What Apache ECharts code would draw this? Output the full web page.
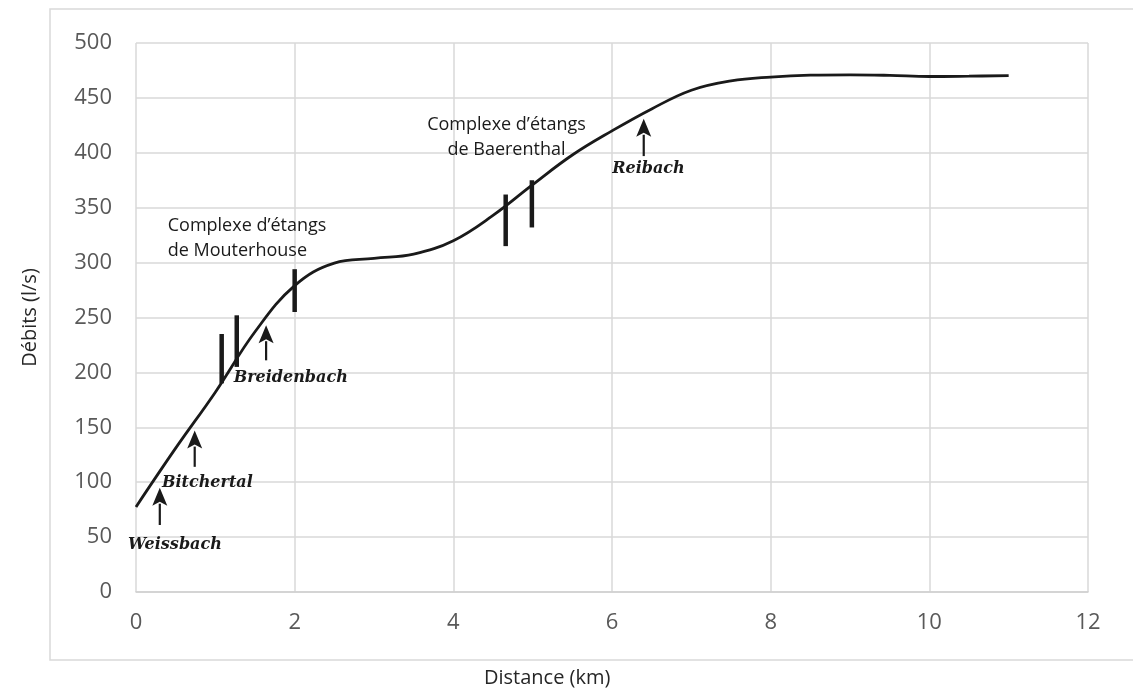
<!DOCTYPE html>
<html>
<head>
<meta charset="utf-8">
<script src="https://cdn.jsdelivr.net/npm/echarts@6/dist/echarts.min.js"></script>
<style>
  html, body { margin: 0; padding: 0; background: #fff; }
  #chart { width: 1133px; height: 693px; }
</style>
</head>
<body>
<div id="chart"></div>
<script>
// courbe des débits (km, l/s)
var distance = [0, 0.5, 1.0, 1.5, 2.0, 2.5, 3.0, 3.5, 4.0, 4.5, 5.0, 5.5, 6.0, 6.5, 7.0, 7.5, 8.0, 8.5, 9.0, 9.5, 10.0, 10.5, 11.0];
var debits = [77.5, 131, 182, 237, 279, 299.5, 303.8, 307.8, 320, 343, 371, 398, 420, 440, 457, 465.5, 469, 470.7, 471, 470.5, 469.5, 469.8, 470.3];

// barres verticales (étangs)
var barX = [1.08, 1.27, 2.0, 4.66, 4.99];
var barLow = [190, 205, 255, 315, 332];
var barHigh = [235, 252, 294, 362, 375];

// affluents (flèches)
var affluents = ['Weissbach', 'Bitchertal', 'Breidenbach', 'Reibach'];
var arrowX = [0.3, 0.74, 1.64, 6.4];
var arrowBase = [61, 114, 211, 397];
var arrowTip = [95, 147, 243, 431];
var affLabelX = [0.49, 0.9, 1.95, 6.46];
var affLabelY = [43, 99.5, 195, 385];

// complexes d'étangs
var notes = ['Complexe d\u2019étangs\nde Mouterhouse', 'Complexe d\u2019étangs\nde Baerenthal'];
var noteX = [0.4, 4.67];
var noteY = [345, 437];
var noteAlign = ['left', 'center'];

var chart = echarts.init(document.getElementById('chart'));

var lineData = distance.map(function (d, i) { return [d, debits[i]]; });

var option = {
  animation: false,
  backgroundColor: '#fff',
  grid: { left: 136, right: 45, top: 43, bottom: 101 },
  graphic: [
    {
      type: 'rect',
      shape: { x: 50, y: 9, width: 1120, height: 651 },
      style: { fill: 'none', stroke: '#d9d9d9', lineWidth: 1.5 },
      z: -1
    },
    {
      type: 'text',
      left: 484, top: 668,
      style: { text: 'Distance (km)', font: '20px "Open Sans"', fill: '#262626' }
    }
  ],
  xAxis: {
    type: 'value',
    min: 0, max: 12, interval: 2,
    axisLine: { show: true, lineStyle: { color: '#d0d0d0', width: 1.5 } },
    axisTick: { show: false },
    splitLine: { show: true, lineStyle: { color: '#d9d9d9', width: 1.5 } },
    axisLabel: { color: '#595959', fontSize: 22, fontFamily: 'Open Sans', margin: 20 }
  },
  yAxis: {
    type: 'value',
    min: 0, max: 500, interval: 50,
    name: 'Débits (l/s)',
    nameLocation: 'middle',
    nameGap: 96,
    nameTextStyle: { color: '#262626', fontSize: 20, fontFamily: 'Open Sans' },
    axisLine: { show: false },
    axisTick: { show: false },
    splitLine: { show: true, lineStyle: { color: '#d9d9d9', width: 1.5 } },
    axisLabel: { color: '#595959', fontSize: 22, fontFamily: 'Open Sans', margin: 24 }
  },
  series: [
    {
      name: 'Débits',
      type: 'line',
      data: lineData,
      smooth: 0.4,
      showSymbol: false,
      lineStyle: { color: '#1a1a1a', width: 2.8 },
      z: 3
    },
    {
      name: 'Etangs',
      type: 'custom',
      data: barX.map(function (x, i) { return [x, barLow[i], barHigh[i]]; }),
      renderItem: function (params, api) {
        var p1 = api.coord([api.value(0), api.value(1)]);
        var p2 = api.coord([api.value(0), api.value(2)]);
        return {
          type: 'line',
          shape: { x1: p1[0], y1: p1[1], x2: p2[0], y2: p2[1] },
          style: { stroke: '#1a1a1a', lineWidth: 4.5 }
        };
      },
      z: 4
    },
    {
      name: 'Affluents',
      type: 'custom',
      data: arrowX.map(function (x, i) { return [x, arrowBase[i], arrowTip[i]]; }),
      renderItem: function (params, api) {
        var i = params.dataIndex;
        var b = api.coord([api.value(0), api.value(1)]);
        var t = api.coord([api.value(0), api.value(2)]);
        var lp = api.coord([affLabelX[i], affLabelY[i]]);
        var headH = 18, headW = 7.5;
        return {
          type: 'group',
          children: [
            {
              type: 'line',
              shape: { x1: b[0], y1: b[1], x2: t[0], y2: t[1] + headH - 2 },
              style: { stroke: '#1a1a1a', lineWidth: 2.2 }
            },
            {
              type: 'polygon',
              shape: { points: [[t[0], t[1]], [t[0] - headW, t[1] + headH], [t[0], t[1] + headH - 4], [t[0] + headW, t[1] + headH]] },
              style: { fill: '#1a1a1a' }
            },
            {
              type: 'text',
              x: lp[0], y: lp[1],
              style: {
                text: affluents[i],
                font: 'italic bold 16px "DejaVu Serif"',
                fill: '#1a1a1a',
                align: 'center',
                verticalAlign: 'middle'
              }
            }
          ]
        };
      },
      z: 4
    },
    {
      name: 'Notes',
      type: 'custom',
      data: noteX.map(function (x, i) { return [x, noteY[i]]; }),
      renderItem: function (params, api) {
        var i = params.dataIndex;
        var p = api.coord([api.value(0), api.value(1)]);
        return {
          type: 'text',
          x: p[0], y: p[1],
          style: {
            text: notes[i],
            font: '18px "Open Sans"',
            lineHeight: 25,
            fill: '#1a1a1a',
            align: noteAlign[i],
            verticalAlign: 'top'
          }
        };
      },
      z: 5
    }
  ]
};

chart.setOption(option);
</script>
</body>
</html>
